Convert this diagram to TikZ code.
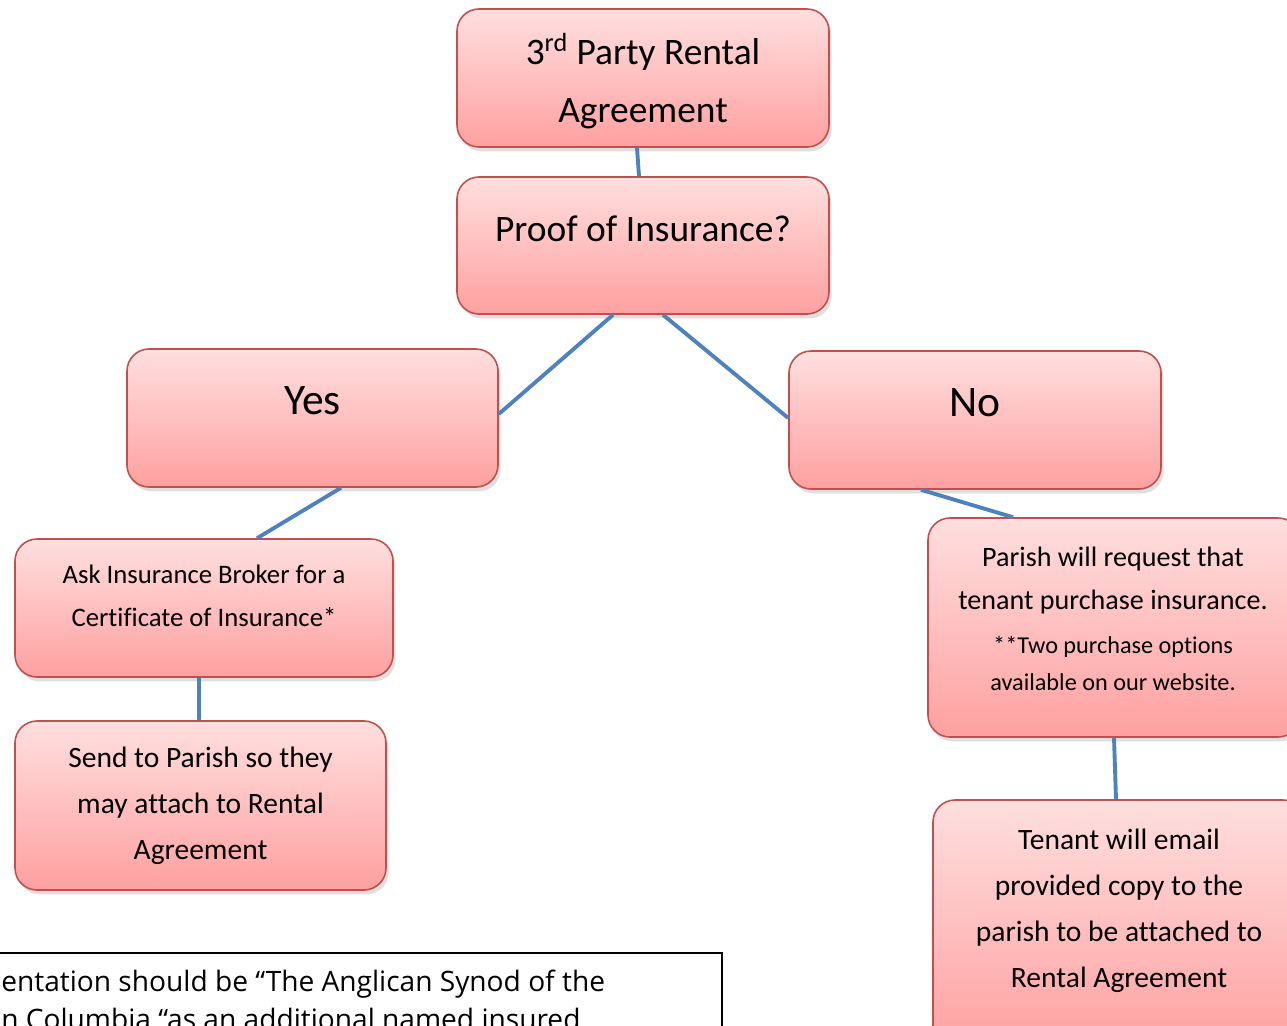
\documentclass[tikz,border=0pt]{standalone}
\usepackage{fontspec}
\setmainfont[Ligatures=NoCommon]{Carlito}
\newfontfamily\notefont{Open Sans}
\usetikzlibrary{shadows}
\newlength\px \setlength\px{0.02cm}
\definecolor{boxborder}{RGB}{192,80,77}
\definecolor{boxtop}{RGB}{255,223,223}
\definecolor{boxbot}{RGB}{255,160,160}
\definecolor{conn}{RGB}{79,129,189}
\begin{document}
\begin{tikzpicture}[x=0.02cm,y=-0.02cm,
  rbox/.style={draw=boxborder, line width=0.9pt, rounded corners=22\px,
    top color=boxtop, bottom color=boxbot, minimum width=372\px,
    minimum height=138\px, inner sep=0pt,
    drop shadow={shadow xshift=1.5pt, shadow yshift=-2.5pt, opacity=0.25}},
  txt/.style={align=center, inner sep=0pt, text=black},
  big/.style={font=\fontsize{21.3pt}{32.9pt}\selectfont},
  huge/.style={font=\fontsize{24.8pt}{30pt}\selectfont},
  mid/.style={font=\fontsize{16.8pt}{26.1pt}\selectfont},
  askf/.style={font=\fontsize{15.2pt}{24.4pt}\selectfont},
  small/.style={font=\fontsize{13.8pt}{21pt}\selectfont},
  link/.style={draw=conn, line width=2.2pt}
]
\path[use as bounding box] (0,0) rectangle (1287,1025);
\clip (0,0) rectangle (1287,1025);
\fill[white] (0,0) rectangle (1287,1025);

% boxes
\node[rbox] (top) at (643,78) {};
\node[rbox, minimum height=137\px] (proof) at (643,245.5) {};
\node[rbox, minimum width=371\px] (yes) at (312.5,418) {};
\node[rbox] (no) at (975,420) {};
\node[rbox, minimum width=378\px] (ask) at (204,608) {};
\node[rbox, minimum width=371\px, minimum height=169\px] (send) at (200.5,805.5) {};
\node[rbox, minimum height=219\px] (parish) at (1114,627.5) {};
\node[rbox, minimum height=250\px] (tenant) at (1119,925) {};

% texts
\node[txt, big] (topT) at (643,81) {3\textsuperscript{rd} Party Rental\\Agreement};
\node[txt, big] (proofT) at (643,229) {Proof of Insurance?};
\node[txt, huge] (yesT) at (312.5,401) {Yes};
\node[txt, huge] (noT) at (975,403) {No};
\node[txt, askf] (askT) at (204,595.5) {Ask Insurance Broker for a\\Certificate of Insurance*};
\node[txt, mid] (sendT) at (200.5,806) {Send to Parish so they\\may attach to Rental\\Agreement};
\node[txt, font=\fontsize{16pt}{24.4pt}\selectfont] (parishA) at (1113,580.5) {Parish will request that\\tenant purchase insurance.};
\node[txt, small] (parishB) at (1113,663.5) {**Two purchase options\\available on our website.};
\node[txt, mid] (tenantT) at (1119,911) {Tenant will email\\provided copy to the\\parish to be attached to\\Rental Agreement};

% connectors
\draw[link] ([xshift=-6\px]top.south) -- ([xshift=-4\px]proof.north);
\draw[link] ([xshift=-30\px]proof.south) -- ([yshift=4\px]yes.east);
\draw[link] ([xshift=20\px]proof.south) -- ([yshift=2\px]no.west);
\draw[link] ([xshift=28.5\px]yes.south) -- ([xshift=53\px]ask.north);
\draw[link] ([xshift=-54\px]no.south) -- ([xshift=-101\px]parish.north);
\draw[link] ([xshift=-5\px]ask.south) -- ([xshift=-1.5\px]send.north);
\draw[link] (parish.south) -- ([xshift=-3\px]tenant.north);

% note box (cut off)
\draw[black, line width=0.6pt] (-20,953) rectangle (722,1100);
\node[anchor=west, inner sep=0pt, font=\notefont\fontsize{16pt}{21.5pt}\selectfont, align=left] (note) at (1,1000)
  {entation should be “The Anglican Synod of the\\n Columbia “as an additional named insured};
\end{tikzpicture}
\end{document}
